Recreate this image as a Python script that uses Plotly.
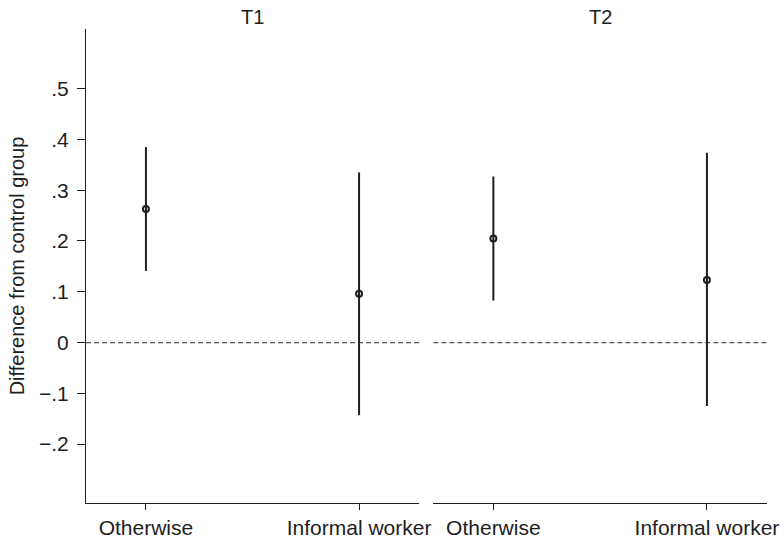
import plotly.graph_objects as go

# Estimates and 95% confidence bounds, by treatment arm
categories = ["Otherwise", "Informal worker"]
panels = ["T1", "T2"]
estimates = {"T1": [0.263, 0.096], "T2": [0.205, 0.123]}
lower = {"T1": [0.141, -0.143], "T2": [0.083, -0.125]}
upper = {"T1": [0.385, 0.335], "T2": [0.327, 0.374]}
y_ticks = [-0.2, -0.1, 0, 0.1, 0.2, 0.3, 0.4, 0.5]
y_tick_labels = ["\u2212.2", "\u2212.1", "0", ".1", ".2", ".3", ".4", ".5"]

INK = "#1e1e1e"
FONT = "Liberation Sans, Arial, Helvetica, sans-serif"
FS = 21

fig = go.Figure()
x_pos = [1, 2]
domains = [[0.0, 0.489], [0.510, 1.0]]
for i, p in enumerate(panels):
    xa = "x" if i == 0 else "x2"
    est = estimates[p]
    fig.add_trace(go.Scatter(
        x=x_pos, y=est, xaxis=xa, yaxis="y", mode="markers",
        marker=dict(symbol="circle-open", size=6, color=INK, line=dict(width=2, color=INK)),
        error_y=dict(type="data", symmetric=False,
                     array=[u - e for u, e in zip(upper[p], est)],
                     arrayminus=[e - l for e, l in zip(est, lower[p])],
                     width=0, thickness=2, color=INK),
        showlegend=False, hoverinfo="skip",
    ))
    fig.add_shape(type="line", xref=f"{xa} domain", yref="y", x0=0, x1=1, y0=0, y1=0,
                  line=dict(color="#555555", width=1.2, dash="5px,3px"), layer="below")
    fig.add_annotation(text=p, xref=f"{xa} domain", yref="paper", x=0.5, y=1.0,
                       yanchor="bottom", yshift=-1, showarrow=False,
                       font=dict(size=FS - 1, color=INK, family=FONT))

xaxis_common = dict(
    range=[0.71875, 2.28125], tickvals=x_pos, ticktext=categories,
    showline=True, linecolor=INK, linewidth=1.2, ticks="outside", ticklen=6,
    tickcolor=INK, tickwidth=1.2, showgrid=False, zeroline=False,
    automargin=False,
    tickfont=dict(size=FS, color=INK, family=FONT),
)

fig.update_layout(
    width=784, height=543,
    margin=dict(l=86, r=17, t=29, b=40),
    paper_bgcolor="white", plot_bgcolor="white",
    xaxis=dict(domain=domains[0], **xaxis_common),
    xaxis2=dict(domain=domains[1], anchor="y", **xaxis_common),
    yaxis=dict(
        range=[-0.316, 0.6175], tickvals=y_ticks, ticktext=y_tick_labels,
        showline=True, linecolor=INK, linewidth=1.2, ticks="outside", ticklen=8,
        tickcolor=INK, tickwidth=1.2, showgrid=False, zeroline=False,
        ticklabelstandoff=4, automargin=False,
        tickfont=dict(size=FS, color=INK, family=FONT),
        title=dict(text="Difference from control group", standoff=8,
                   font=dict(size=FS - 1, color=INK, family=FONT)),
    ),
)

fig.write_html("out.html")
